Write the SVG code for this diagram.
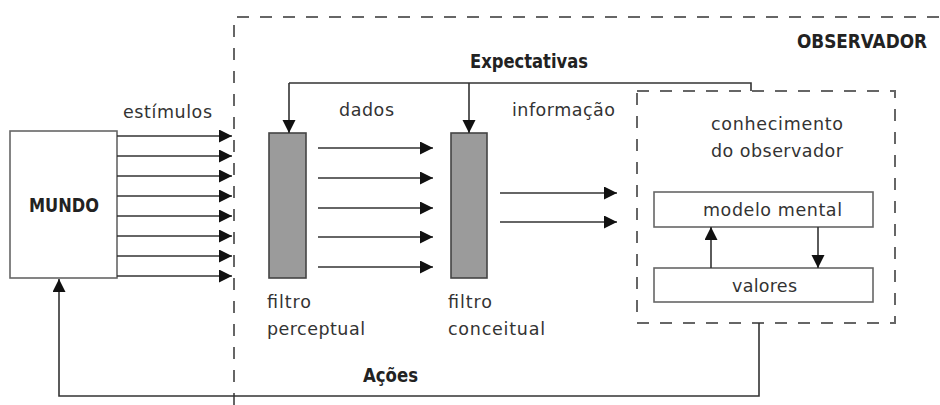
<svg xmlns="http://www.w3.org/2000/svg" width="940" height="405" viewBox="0 0 940 405">
<defs>
<marker id="ah" markerUnits="userSpaceOnUse" markerWidth="14" markerHeight="14" refX="13" refY="6.5" orient="auto">
<path d="M0,0 L13,6.5 L0,13 z" fill="#111"/>
</marker>
</defs>
<style>
.t{font-family:"DejaVu Sans","Liberation Sans",sans-serif;font-size:17.5px;fill:#333}
.b{font-family:"DejaVu Sans Condensed","DejaVu Sans","Liberation Sans",sans-serif;font-weight:bold;font-size:20px;fill:#222}
.box{fill:#fff;stroke:#666;stroke-width:1.6}
.filt{fill:#9b9b9b;stroke:#444;stroke-width:1.6}
.dash{fill:none;stroke:#666;stroke-width:2;stroke-dasharray:12 11}
.ln{fill:none;stroke:#333;stroke-width:1.6}
.ar{fill:none;stroke:#333;stroke-width:1.6;marker-end:url(#ah)}
</style>
<rect width="940" height="405" fill="#fff"/>
<g id="observador">
<path class="dash" d="M234,405 L234,17 L940,17"/>
<text class="b" x="797" y="48" textLength="130" lengthAdjust="spacingAndGlyphs">OBSERVADOR</text>
</g>
<g id="mundo">
<rect class="box" x="10" y="131" width="107" height="147"/>
<text class="b" x="29" y="212" textLength="70" lengthAdjust="spacingAndGlyphs">MUNDO</text>
</g>
<g id="filtro-perceptual">
<rect class="filt" x="269" y="133" width="37" height="145"/>
<text class="t" x="267" y="308" textLength="44" lengthAdjust="spacing">filtro</text>
<text class="t" x="267" y="335" textLength="98" lengthAdjust="spacing">perceptual</text>
</g>
<g id="filtro-conceitual">
<rect class="filt" x="451" y="133" width="36" height="145"/>
<text class="t" x="448" y="308" textLength="44" lengthAdjust="spacing">filtro</text>
<text class="t" x="448" y="335" textLength="97" lengthAdjust="spacing">conceitual</text>
</g>
<g id="conhecimento">
<rect class="dash" x="637" y="91" width="258" height="232"/>
<text class="t" x="711" y="130" textLength="132" lengthAdjust="spacing">conhecimento</text>
<text class="t" x="711" y="157" textLength="132" lengthAdjust="spacing">do observador</text>
</g>
<g id="modelo-mental">
<rect class="box" x="654" y="192" width="219" height="35"/>
<text class="t" x="703" y="216" textLength="139" lengthAdjust="spacing">modelo mental</text>
</g>
<g id="valores">
<rect class="box" x="654" y="268" width="219" height="34"/>
<text class="t" x="732" y="292" textLength="65" lengthAdjust="spacing">valores</text>
</g>
<g id="connectors">
<path class="ar" d="M117,136 H232"/>
<path class="ar" d="M117,156 H232"/>
<path class="ar" d="M117,176 H232"/>
<path class="ar" d="M117,196 H232"/>
<path class="ar" d="M117,216 H232"/>
<path class="ar" d="M117,236 H232"/>
<path class="ar" d="M117,256 H232"/>
<path class="ar" d="M117,276 H232"/>
<path class="ar" d="M318,148 H433"/>
<path class="ar" d="M318,178 H433"/>
<path class="ar" d="M318,208 H433"/>
<path class="ar" d="M318,237 H433"/>
<path class="ar" d="M318,267 H433"/>
<path class="ar" d="M500,193 H617"/>
<path class="ar" d="M500,222 H617"/>
<path class="ln" d="M289,83 H751 V91"/>
<path class="ar" d="M289,83 V133"/>
<path class="ar" d="M469,83 V133"/>
<path class="ar" d="M711,268 V227"/>
<path class="ar" d="M818,227 V268"/>
<path class="ar" d="M759,323 V396 H59 V279"/>
<text class="t" x="123" y="118" textLength="89" lengthAdjust="spacing">estímulos</text>
<text class="t" x="339" y="116" textLength="55" lengthAdjust="spacing">dados</text>
<text class="t" x="512" y="116" textLength="103" lengthAdjust="spacing">informação</text>
<text class="b" x="470" y="68" textLength="118" lengthAdjust="spacingAndGlyphs">Expectativas</text>
<text class="b" x="363" y="382" textLength="55" lengthAdjust="spacingAndGlyphs">Ações</text>
</g>
</svg>
